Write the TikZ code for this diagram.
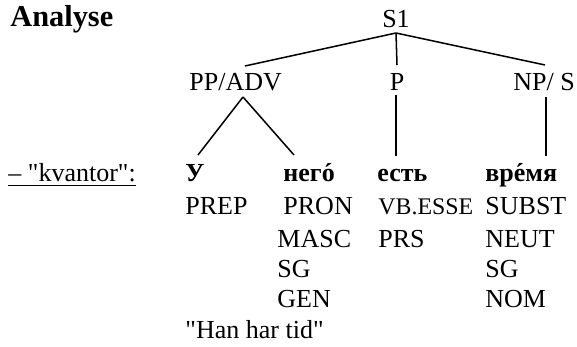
\documentclass[tikz,border=0pt]{standalone}
\usepackage{fontspec}
\setmainfont{Liberation Serif}[Ligatures=TeXOff]
\usetikzlibrary{calc}
% stressed vowel: spacing acute set over the letter
\newcommand{\stress}[1]{\accent"00B4 #1}
\begin{document}
% unit: 12pt text = 26 units, y grows downwards
\begin{tikzpicture}[x=0.4615pt,y=-0.4615pt,
  lbl/.style={inner sep=0pt,anchor=base west,font=\fontsize{12}{14}\selectfont},
  cat/.style={inner sep=0pt,anchor=base,font=\fontsize{12}{14}\selectfont},
  word/.style={lbl,font=\fontsize{12}{14}\selectfont\bfseries},
  tag/.style={lbl},
  smalltag/.style={lbl,font=\fontsize{11}{13}\selectfont},
  edge/.style={draw,line width=0.7pt}]
\useasboundingbox (0,0) rectangle (577,347);

% heading
\node[lbl,font=\fontsize{14}{17}\selectfont\bfseries] (title) at (10,27) {Analyse};

% phrase structure
\node[cat] (s1) at (396,28) {S1};
\node[lbl] (ppadv) at (189,91) {PP/ADV};
\node[cat] (p) at (397,91) {P};
\node[lbl] (nps) at (513,91) {NP/ S};

% words
\node[lbl] (kv) at (8,182) {– "kvantor":};
\draw[line width=0.7pt] ($(kv.base west)+(0,3.5)$) -- ($(kv.base east)+(0,3.5)$);
\node[word] (w1) at (185,182) {У};
\node[word] (w2) at (283,182) {нег\stress{о}};
\node[word] (w3) at (377,182) {есть};
\node[word] (w4) at (485,182) {вр\stress{е}мя};

% grammatical tags
\node[tag] (t1a) at (185,215) {PREP};
\node[tag] (t2a) at (283,215) {PRON};
\node[tag] (t2b) at (277,248) {MASC};
\node[tag] (t2c) at (277,278) {SG};
\node[tag] (t2d) at (277,308) {GEN};
\node[smalltag] (t3a) at (378,215) {VB.ESSE};
\node[tag] (t3b) at (378,248) {PRS};
\node[tag] (t4a) at (485,215) {SUBST};
\node[tag] (t4b) at (485,248) {NEUT};
\node[tag] (t4c) at (485,278) {SG};
\node[tag] (t4d) at (485,308) {NOM};

% translation
\node[tag] (gloss) at (185,338) {"Han har tid"};

% tree branches
\draw[edge] ($(s1.base)+(0,5)$) -- ($(ppadv.base west)+(56,-25)$);
\draw[edge] ($(s1.base)+(0,5)$) -- ($(p.base)+(0,-26)$);
\draw[edge] ($(s1.base)+(0,5)$) -- ($(nps.base west)+(32,-26)$);
\draw[edge] ($(ppadv.base west)+(54,6)$) -- ($(w1.base west)+(13,-27)$);
\draw[edge] ($(ppadv.base west)+(54,6)$) -- ($(w2.base west)+(11,-27)$);
\draw[edge] ($(p.base)+(-1,4)$) -- ($(w3.base west)+(19,-26)$);
\draw[edge] ($(nps.base west)+(33,6)$) -- ($(w4.base west)+(61,-26)$);
\end{tikzpicture}
\end{document}
